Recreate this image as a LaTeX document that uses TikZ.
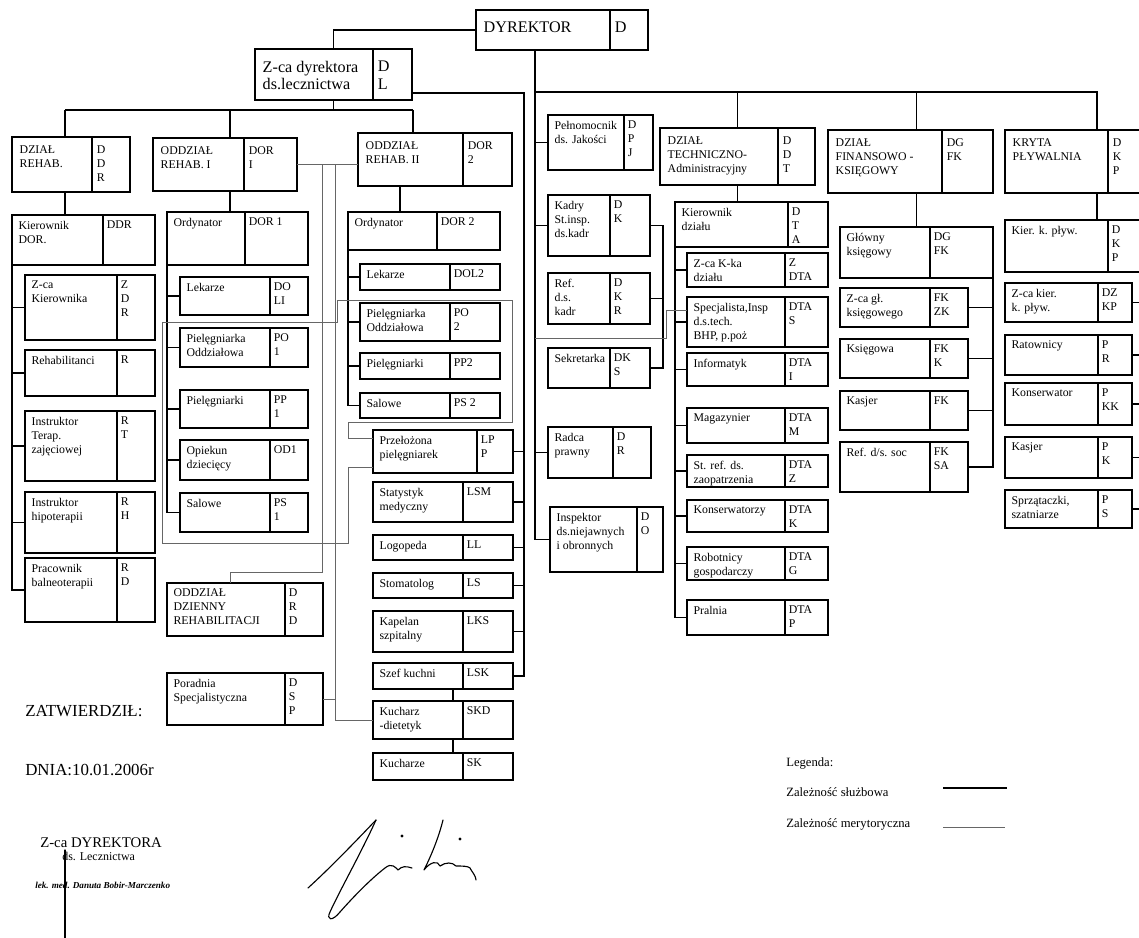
\documentclass[tikz,border=0pt]{standalone}
\usepackage{fontspec}
\setmainfont{Liberation Serif}
\usetikzlibrary{positioning, calc}
\tikzset{
  cell/.style={draw, rectangle, line width=1.1pt, inner sep=0pt, outer sep=0pt},
  head/.style={line width=2pt, inner ysep=5pt},
  big/.style={font=\fontsize{11.5}{12.6}\selectfont, inner ysep=7.5pt},
  txt/.style={inner xsep=4.5pt, inner ysep=4pt, align=left, font=\fontsize{8.4}{10}\selectfont},
  code/.style={inner xsep=2.5pt, inner ysep=4pt, align=left, font=\fontsize{8.4}{10}\selectfont},
  link/.style={line width=1pt},
  mery/.style={line width=0.6pt, black!60},
  plain/.style={anchor=west, inner sep=0pt},
  sig/.style={line width=0.8pt, line cap=round, line join=round}
}
% box with a text cell and a code cell: [opts]{name}{left}{top}{right}{bottom}{divider}{text}{code}
\newcommand{\orgbox}[9][]{%
  \node[cell,#1,minimum width={(#5-#3)*0.025cm},minimum height={(#6-#4)*0.025cm}] (#2) at ({(#3+#5)/2},{(#4+#6)/2}) {};
  \draw[cell,#1] (#7,#4) -- (#7,#6);
  \node[txt,#1,anchor=north west] (#2-t) at (#3,#4) {#8};
  \node[code,#1,anchor=north west] (#2-c) at (#7,#4) {#9};%
}

\begin{document}
\begin{tikzpicture}[x=0.025cm, y=-0.025cm]
  \fill[white] (0,0) rectangle (1139,938);
  \useasboundingbox (0,0) rectangle (1139,938);

  % top
  \orgbox[head,big]{dyr}{476}{10}{648}{50}{610}{DYREKTOR}{D}
  \orgbox[head,big]{zdl}{255}{49}{412}{100}{373}{Z-ca dyrektora\\ds.lecznictwa}{D\\L}

  % dzial rehabilitacji
  \orgbox[head]{dzr}{12}{137}{130}{192}{92}{DZIAŁ\\REHAB.}{D\\D\\R}
  \orgbox{kdor}{12}{215}{155}{265}{103}{Kierownik\\DOR.}{DDR}
  \orgbox{zkier}{25}{275}{155}{340}{117}{Z-ca\\Kierownika}{Z\\D\\R}
  \orgbox{rehab}{25}{350}{155}{396}{117}{Rehabilitanci}{R}
  \orgbox{itz}{25}{411}{155}{481}{117}{Instruktor\\Terap.\\zajęciowej}{R\\T}
  \orgbox{ihip}{25}{492}{155}{553}{117}{Instruktor\\hipoterapii}{R\\H}
  \orgbox{pbal}{25}{558}{155}{622}{117}{Pracownik\\balneoterapii}{R\\D}

  % oddzial I
  \orgbox[head]{odd1}{153}{138}{297}{191}{244}{ODDZIAŁ\\REHAB. I}{DOR\\I}
  \orgbox{ord1}{167}{212}{308}{265}{245}{Ordynator}{DOR 1}
  \orgbox{lek1}{180}{277}{308}{315}{270}{Lekarze}{DO\\LI}
  \orgbox{pio1}{180}{328}{308}{367}{270}{Pielęgniarka\\Oddziałowa}{PO\\1}
  \orgbox{pp1}{180}{390}{308}{428}{270}{Pielęgniarki}{PP\\1}
  \orgbox{opd}{180}{440}{308}{480}{270}{Opiekun\\dziecięcy}{OD1}
  \orgbox{sal1}{180}{493}{308}{532}{270}{Salowe}{PS\\1}
  \orgbox{dzien}{167}{583}{323}{636}{285}{ODDZIAŁ\\DZIENNY\\REHABILITACJI}{D\\R\\D}
  \orgbox{por}{167}{673}{323}{725}{285}{Poradnia\\Specjalistyczna}{D\\S\\P}

  % oddzial II
  \orgbox[head]{odd2}{358}{133}{512}{186}{463}{ODDZIAŁ\\REHAB. II}{DOR\\2}
  \orgbox{ord2}{348}{212}{500}{250}{437}{Ordynator}{DOR 2}
  \orgbox{lek2}{360}{264}{500}{290}{450}{Lekarze}{DOL2}
  \orgbox{pio2}{360}{303}{500}{341}{450}{Pielęgniarka\\Oddziałowa}{PO\\2}
  \orgbox{pp2}{360}{353}{500}{379}{450}{Pielęgniarki}{PP2}
  \orgbox{sal2}{360}{393}{500}{418}{450}{Salowe}{PS 2}
  \orgbox{przel}{373}{430}{513}{473}{477}{Przełożona\\pielęgniarek}{LP\\P}
  \orgbox{stat}{373}{482}{513}{522}{463}{Statystyk\\medyczny}{LSM}
  \orgbox{logo}{373}{535}{513}{560}{463}{Logopeda}{LL}
  \orgbox{stom}{373}{573}{513}{598}{463}{Stomatolog}{LS}
  \orgbox{kap}{373}{611}{513}{652}{463}{Kapelan\\szpitalny}{LKS}
  \orgbox{szef}{373}{663}{513}{689}{463}{Szef kuchni}{LSK}
  \orgbox{kdiet}{373}{701}{513}{739}{463}{Kucharz\\-dietetyk}{SKD}
  \orgbox{kuch}{373}{753}{513}{780}{463}{Kucharze}{SK}

  % samodzielne stanowiska
  \orgbox{pel}{548}{115}{653}{170}{624}{Pełnomocnik\\ds. Jakości}{D\\P\\J}
  \orgbox{kadry}{548}{195}{650}{256}{610}{Kadry\\St.insp.\\ds.kadr}{D\\K}
  \orgbox{refk}{548}{273}{650}{324}{610}{Ref.\\d.s.\\kadr}{D\\K\\R}
  \orgbox{sekr}{548}{348}{650}{388}{610}{Sekretarka}{DK\\S}
  \orgbox{radca}{548}{427}{651}{478}{613}{Radca\\prawny}{D\\R}
  \orgbox{insp}{550}{507}{663}{572}{637}{Inspektor\\ds.niejawnych\\i obronnych}{D\\O}

  % dzial techniczno-administracyjny
  \orgbox[head]{dt}{660}{128}{815}{185}{778}{DZIAŁ\\TECHNICZNO-\\Administracyjny}{D\\D\\T}
  \orgbox{dtk}{675}{202}{828}{247}{788}{Kierownik\\działu}{D\\T\\A}
  \orgbox{dtz}{687}{253}{828}{287}{785}{Z-ca K-ka\\działu}{Z\\DTA}
  \orgbox{spec}{687}{297}{828}{347}{785}{Specjalista,Insp\\d.s.tech.\\BHP, p.poż}{DTA\\S}
  \orgbox{inf}{687}{353}{828}{386}{785}{Informatyk}{DTA\\I}
  \orgbox{mag}{687}{408}{828}{443}{785}{Magazynier}{DTA\\M}
  \orgbox{zaop}{687}{455}{828}{487}{785}{St. ref. ds.\\zaopatrzenia}{DTA\\Z}
  \orgbox{kons}{687}{500}{828}{532}{785}{Konserwatorzy}{DTA\\K}
  \orgbox{rob}{687}{547}{828}{580}{785}{Robotnicy\\gospodarczy}{DTA\\G}
  \orgbox{pral}{687}{600}{828}{635}{785}{Pralnia}{DTA\\P}

  % dzial finansowo-ksiegowy
  \orgbox[head]{dfk}{828}{130}{993}{193}{942}{DZIAŁ\\FINANSOWO -\\KSIĘGOWY}{DG\\FK}
  \orgbox{dfkg}{840}{227}{993}{278}{930}{Główny\\księgowy}{DG\\FK}
  \orgbox{dfkz}{840}{288}{968}{327}{930}{Z-ca gł.\\księgowego}{FK\\ZK}
  \orgbox{ksg}{840}{339}{968}{378}{930}{Księgowa}{FK\\K}
  \orgbox{kas}{840}{391}{968}{430}{930}{Kasjer}{FK}
  \orgbox{rsoc}{840}{442}{968}{492}{930}{Ref. d/s. soc}{FK\\SA}

  % kryta plywalnia
  \orgbox[head]{kp}{1005}{130}{1150}{193}{1108}{KRYTA\\PŁYWALNIA}{D\\K\\P}
  \orgbox{kpk}{1005}{220}{1150}{272}{1108}{Kier. k. pływ.}{D\\K\\P}
  \orgbox{kpz}{1005}{283}{1132}{322}{1098}{Z-ca kier.\\k. pływ.}{DZ\\KP}
  \orgbox{rat}{1005}{335}{1132}{375}{1098}{Ratownicy}{P\\R}
  \orgbox{kpkons}{1005}{383}{1132}{425}{1098}{Konserwator}{P\\KK}
  \orgbox{kpkas}{1005}{437}{1132}{478}{1098}{Kasjer}{P\\K}
  \orgbox{sprz}{1005}{490}{1132}{528}{1098}{Sprzątaczki,\\szatniarze}{P\\S}

  % bus points
  \coordinate (b1) at (65,110);
  \coordinate (b2) at (230,110);
  \coordinate (b3) at (413,110);
  \coordinate (b4) at (400,186);
  \coordinate (zr) at (524,93);
  \coordinate (db) at (535,92);
  \coordinate (kpd) at (1097,92);
  \coordinate (kpbus) at (1140,272);
  \coordinate (kx) at (453,689);
  \coordinate (m1) at (322,572);
  \coordinate (m2) at (335,161);

  % zaleznosc sluzbowa
  \draw[link] (dyr.west) -| (zdl.north);
  \draw[link] (zdl.south) -- (zdl.south |- b1);
  \draw[link] (b1) -- (b3);
  \draw[link] (b1) -- (b1 |- dzr.north);
  \draw[link] (b2) -- (b2 |- odd1.north);
  \draw[link] (b3) -- (b3 |- odd2.north);
  \draw[link] (b1 |- dzr.south) -- (b1 |- kdor.north);
  \draw[link] (b2 |- odd1.south) -- (b2 |- ord1.north);
  \draw[link] (b4) -- (b4 |- ord2.north);

  \draw[link] (kdor.south west) |- (pbal.west);
  \foreach \s in {zkier,rehab,itz,ihip}
    \draw[link] (kdor.south west |- \s.west) -- (\s.west);
  \draw[link] (ord1.south west) |- (sal1.west);
  \foreach \s in {lek1,pio1,pp1,opd}
    \draw[link] (ord1.south west |- \s.west) -- (\s.west);
  \draw[link] (ord2.south west) |- (sal2.west);
  \foreach \s in {lek2,pio2,pp2}
    \draw[link] (ord2.south west |- \s.west) -- (\s.west);

  \draw[link] (zdl.east |- zr) -- (zr) |- (szef.east);
  \foreach \s in {przel,stat,logo,stom,kap}
    \draw[link] (zr |- \s.east) -- (\s.east);
  \draw[link] (kx) -- (kx |- kdiet.north);
  \draw[link] (kx |- kdiet.south) -- (kx |- kuch.north);

  \draw[link] (dyr.south -| db) |- (insp.west);
  \foreach \s in {pel,kadry,radca}
    \draw[link] (db |- \s.west) -- (\s.west);
  \draw[link] (kadry.east) -- (kadry.east -| insp.east) |- (sekr.east);
  \draw[link] (refk.east) -- (refk.east -| insp.east);

  \draw[link] (db) -- (kpd) -- (kpd |- kp.north);
  \draw[link] (db -| dt.north) -- (dt.north);
  \draw[link] (db -| dfkg.north) -- (dfkg.north |- dfk.north);
  \draw[link] (dt.south) -- (dt.south |- dtk.north);
  \draw[link] (dfkg.north |- dfk.south) -- (dfkg.north);
  \draw[link] (kpd |- kp.south) -- (kpd |- kpk.north);

  \draw[link] (dtk.south west) |- (pral.west);
  \foreach \s in {dtz,spec,inf,mag,zaop,kons,rob}
    \draw[link] (dtk.south west |- \s.west) -- (\s.west);
  \draw[link] (dfkg.south east) |- (rsoc.east);
  \foreach \s in {dfkz,ksg,kas}
    \draw[link] (\s.east) -- (\s.east -| dfkg.east);
  \draw[link] (kpbus) |- (sprz.east);
  \foreach \s in {kpz,rat,kpkons,kpkas}
    \draw[link] (\s.east) -- (\s.east -| kpbus);

  % zaleznosc merytoryczna
  \draw[mery] (odd1.east) -- (odd1.east -| odd2.west);
  \draw[mery] (odd1.east -| m1) -- (m1) -- (m1 -| b2) -- (b2 |- dzien.north);
  \draw[mery] (odd1.east -| m2) |- (kdiet.west);
  \draw[mery] (por.east) -- (por.east -| m2);
  \draw[mery] (przel.west |- 0,438) -- (348,438) -- (348,422) -- (512,422) -- (512,300)
    -- (337,300) -- (337,322) -- (162,322) -- (162,543) -- (348,543) -- (348,467) -- (przel.west |- 0,467);
  \draw[mery] (db |- 0,338) -- (666,338) -- (666,310) -- (spec.west |- 0,310);

  % zatwierdzenie
  \node[plain, font=\fontsize{12}{14}\selectfont] (zatw) at (25,711) {ZATWIERDZIŁ:};
  \node[plain, font=\fontsize{12}{14}\selectfont] (dnia) at (25,770) {DNIA:10.01.2006r};
  \node[plain, font=\fontsize{10.5}{11}\selectfont] (st1) at (40,843) {Z-ca DYREKTORA};
  \node[plain, font=\fontsize{8.5}{9}\selectfont] (st2) at (62,856) {ds. Lecznictwa};
  \node[plain, font=\fontsize{6.5}{7}\selectfont\bfseries\itshape] (st3) at (35,885) {lek. med. Danuta Bobir-Marczenko};
  \draw[sig] (65,850) -- (65,938);
  \draw[sig] (308,888) .. controls (330,868) and (355,842) .. (376,820);
  \draw[sig] (376,820) .. controls (360,855) and (340,890) .. (330,912)
    .. controls (326,920) and (332,922) .. (340,912)
    .. controls (355,895) and (372,878) .. (385,868)
    .. controls (392,862) and (396,868) .. (398,870)
    .. controls (402,866) and (406,866) .. (412,868);
  \draw[sig] (443,820) .. controls (438,840) and (430,858) .. (424,870)
    .. controls (430,862) and (438,860) .. (440,866)
    .. controls (446,862) and (452,862) .. (456,866)
    .. controls (462,866) and (468,866) .. (470,868)
    .. controls (472,872) and (476,876) .. (476,880);
  \fill (402,836) circle (1.2pt);
  \fill (460,839) circle (1.2pt);

  % legenda
  \node[plain, font=\fontsize{9}{10}\selectfont] (leg) at (786,763) {Legenda:};
  \node[plain, font=\fontsize{9}{10}\selectfont] (leg1) at (786,792) {Zależność służbowa};
  \node[plain, font=\fontsize{9}{10}\selectfont] (leg2) at (786,824) {Zależność merytoryczna};
  \coordinate (s1) at (943,788);
  \coordinate (s2) at (1007,788);
  \coordinate (s3) at (943,827);
  \coordinate (s4) at (1005,827);
  \draw[link] (s1) -- (s2);
  \draw[mery] (s3) -- (s4);
\end{tikzpicture}
\end{document}
